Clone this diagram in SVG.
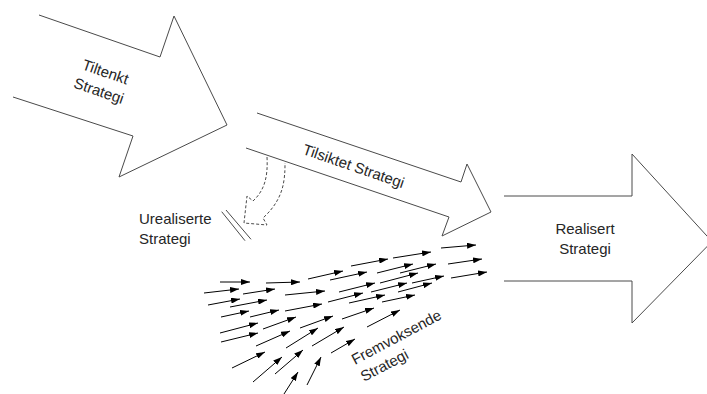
<svg xmlns="http://www.w3.org/2000/svg" width="707" height="394" viewBox="0 0 707 394">
  <defs>
    <style>
      .block { fill: none; stroke: #4a4a4a; stroke-width: 1; stroke-linejoin: miter; }
      .dash { fill: none; stroke: #4a4a4a; stroke-width: 1; stroke-dasharray: 3 2; }
      .slash { stroke: #4a4a4a; stroke-width: 1; }
      .lbl { font-family: "Liberation Sans", Arial, sans-serif; font-size: 15px; fill: #262626; }
      .mid { text-anchor: middle; }
      .flow line { stroke: #000; stroke-width: 1; marker-end: url(#head); }
    </style>
    <marker id="head" viewBox="0 0 9 6" refX="9" refY="3" markerWidth="9" markerHeight="6" markerUnits="userSpaceOnUse" orient="auto">
      <path d="M0,0 L9,3 L0,6 z" fill="#000"/>
    </marker>
  </defs>

  <rect width="707" height="394" fill="#fff"/>

  <!-- intended strategy -->
  <g id="tiltenkt">
    <polyline class="block" points="39,15 160,57 174,16 227,125 119,177 133,136 13,97"/>
    <g transform="translate(100.5,86.3) rotate(19)">
      <text class="lbl mid" x="0" y="-10">Tiltenkt</text>
      <text class="lbl mid" x="0" y="10">Strategi</text>
    </g>
  </g>

  <!-- deliberate strategy -->
  <g id="tilsiktet">
    <polyline class="block" points="257,113 461,182 467,164 491,212 442,236 449,217 246,148"/>
    <text class="lbl mid" transform="translate(352,171) rotate(19)">Tilsiktet Strategi</text>
  </g>

  <!-- realized strategy -->
  <g id="realisert">
    <polyline class="block" points="504,196 632,196 632,154 712,241.5 632,323 632,281 504,281"/>
    <text class="lbl mid" x="585" y="234">Realisert</text>
    <text class="lbl mid" x="585" y="254">Strategi</text>
  </g>

  <!-- unrealized strategy: dashed curved arrow and break mark -->
  <g id="urealiserte">
    <path class="dash" d="M267,157 C268,176 265,190 253,201 L247,196 L244,223 L267,225 L263,218 C275,207 282,195 284,180 C285,173 285,168 285,163"/>
    <line class="slash" x1="221.7" y1="211.7" x2="245" y2="240.7"/>
    <line class="slash" x1="226" y1="210" x2="251" y2="239.3"/>
    <text class="lbl" x="139" y="224">Urealiserte</text>
    <text class="lbl" x="139" y="244">Strategi</text>
  </g>

  <!-- emergent strategy: label for the field of small arrows -->
  <g id="fremvoksende">
    <text class="lbl" transform="translate(355,365) rotate(-28)">Fremvoksende</text>
    <text class="lbl" transform="translate(364,382) rotate(-28)">Strategi</text>
  </g>

  <g id="connectors" class="flow">
    <line x1="220" y1="282" x2="250" y2="282"/>
    <line x1="266" y1="283" x2="300" y2="282"/>
    <line x1="308" y1="279" x2="343" y2="271"/>
    <line x1="351" y1="266" x2="388" y2="259"/>
    <line x1="393" y1="258" x2="431" y2="252"/>
    <line x1="441" y1="248" x2="476" y2="245"/>
    <line x1="204" y1="293" x2="239" y2="289"/>
    <line x1="243" y1="294" x2="275" y2="289"/>
    <line x1="285" y1="295" x2="325" y2="291"/>
    <line x1="330" y1="280" x2="367" y2="272"/>
    <line x1="377" y1="273" x2="413" y2="264"/>
    <line x1="400" y1="273" x2="436" y2="264"/>
    <line x1="448" y1="264" x2="482" y2="259"/>
    <line x1="380" y1="283" x2="418" y2="273"/>
    <line x1="412" y1="283" x2="444" y2="276"/>
    <line x1="451" y1="278" x2="487" y2="272"/>
    <line x1="371" y1="292" x2="407" y2="283"/>
    <line x1="398" y1="292" x2="432" y2="283"/>
    <line x1="382" y1="302" x2="415" y2="295"/>
    <line x1="339" y1="292" x2="375" y2="283"/>
    <line x1="328" y1="302" x2="363" y2="293"/>
    <line x1="349" y1="303" x2="385" y2="295"/>
    <line x1="208" y1="305" x2="240" y2="299"/>
    <line x1="230" y1="307" x2="267" y2="300"/>
    <line x1="285" y1="311" x2="322" y2="304"/>
    <line x1="221" y1="317" x2="249" y2="311"/>
    <line x1="250" y1="317" x2="279" y2="310"/>
    <line x1="220" y1="333" x2="258" y2="323"/>
    <line x1="263" y1="329" x2="296" y2="317"/>
    <line x1="221" y1="342" x2="258" y2="333"/>
    <line x1="256" y1="346" x2="290" y2="331"/>
    <line x1="300" y1="328" x2="333" y2="316"/>
    <line x1="342" y1="319" x2="374" y2="308"/>
    <line x1="286" y1="348" x2="318" y2="328"/>
    <line x1="312" y1="346" x2="344" y2="327"/>
    <line x1="367" y1="327" x2="400" y2="310"/>
    <line x1="331" y1="353" x2="355" y2="339"/>
    <line x1="232" y1="368" x2="265" y2="352"/>
    <line x1="253" y1="382" x2="282" y2="357"/>
    <line x1="275" y1="374" x2="303" y2="350"/>
    <line x1="284" y1="394" x2="298" y2="372"/>
    <line x1="307" y1="385" x2="321" y2="357"/>
  </g>
</svg>
